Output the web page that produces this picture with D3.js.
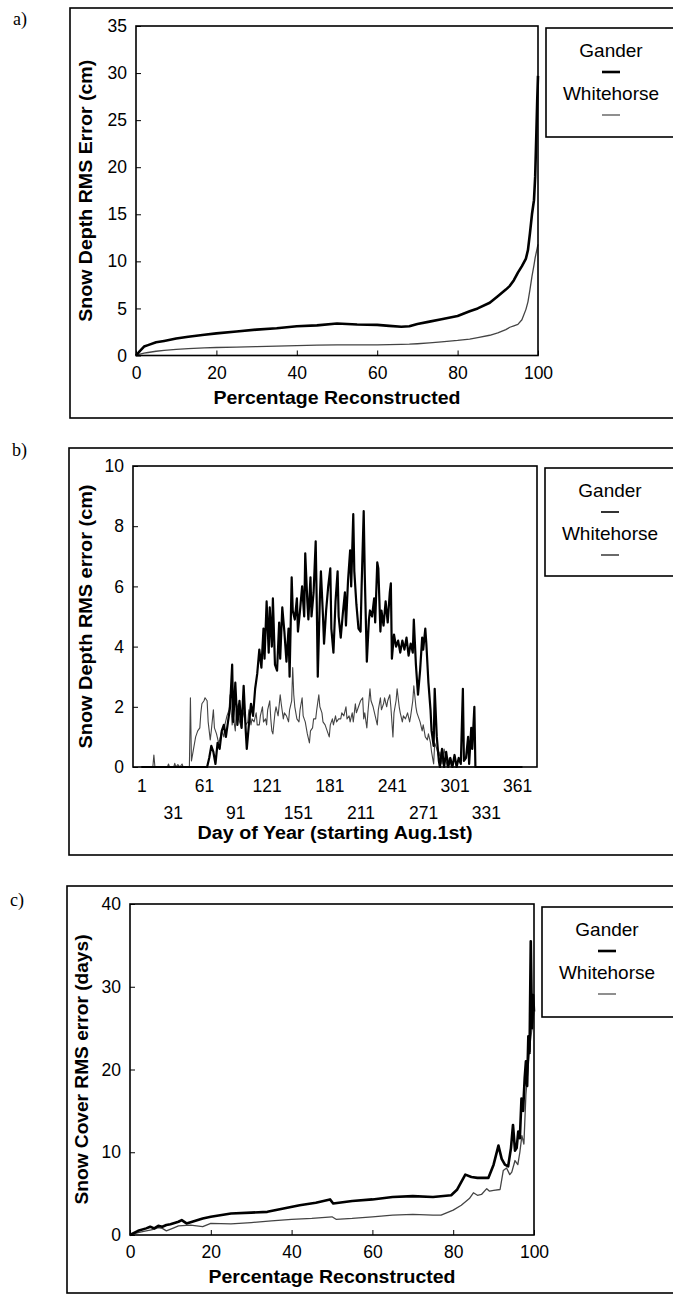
<!DOCTYPE html>
<html>
<head>
<meta charset="utf-8">
<script src="https://cdn.jsdelivr.net/npm/d3@7"></script>
<style>
  body { margin: 0; background: #fff; }
  svg { display: block; }
  text { font-family: 'Liberation Sans', Arial, sans-serif; fill: #000; }
</style>
</head>
<body>
<svg id="chart" width="673" height="1297"></svg>
<script>
// ---- panel a: snow depth RMS error vs percentage reconstructed
var pctA = [0, 1, 2, 3, 5, 7, 10, 13, 17, 20, 25, 30, 35, 40, 45, 50, 55, 60, 63, 66, 68, 70, 73, 76, 80, 83, 85, 88, 90, 92, 93, 94, 95, 96, 97, 97.5, 98, 98.5, 99, 99.3, 99.6, 99.8, 100];
var ganderA = [0, 0.5, 0.95, 1.1, 1.4, 1.55, 1.8, 2.0, 2.2, 2.35, 2.55, 2.75, 2.9, 3.1, 3.2, 3.4, 3.3, 3.25, 3.15, 3.05, 3.1, 3.35, 3.6, 3.85, 4.2, 4.7, 5.0, 5.6, 6.3, 7.0, 7.4, 8.0, 8.8, 9.5, 10.3, 11.2, 13, 15, 16.5, 19, 23.7, 27, 29.7];
var whiteA = [0, 0.15, 0.25, 0.32, 0.45, 0.55, 0.65, 0.72, 0.8, 0.85, 0.9, 0.95, 1.0, 1.05, 1.1, 1.12, 1.12, 1.13, 1.15, 1.18, 1.2, 1.25, 1.35, 1.45, 1.6, 1.75, 1.9, 2.15, 2.4, 2.75, 3.0, 3.15, 3.3, 3.8, 4.9, 5.7, 7.0, 8.4, 9.6, 10.4, 11.0, 11.4, 11.8];

// ---- panel b: daily snow depth RMS error (day 1 = Aug 1st)
var ganderDays = [1, 64, 66, 68, 70, 72, 74, 76, 78, 80, 82, 84, 86, 88, 89, 91, 93, 95, 97, 99, 101, 102, 104, 106, 108, 110, 112, 114, 116, 118, 119, 121, 123, 124, 126, 127, 129, 131, 133, 134, 136, 138, 140, 142, 143, 145, 146, 148, 150, 151, 153, 155, 157, 158, 160, 161, 163, 164, 166, 168, 169, 170, 172, 173, 175, 176, 178, 180, 182, 183, 185, 187, 189, 190, 192, 194, 196, 197, 199, 201, 202, 204, 205, 207, 209, 211, 212, 214, 215, 217, 219, 220, 222, 224, 225, 227, 228, 230, 231, 233, 235, 237, 239, 240, 241, 243, 245, 247, 249, 251, 253, 255, 257, 259, 261, 262, 264, 266, 268, 270, 271, 273, 274, 276, 278, 279, 281, 282, 284, 286, 287, 289, 291, 293, 295, 297, 299, 301, 303, 305, 307, 309, 310, 312, 314, 315, 317, 318, 320, 321, 366];
var ganderDepth = [0, 0, 0.3, 0.7, 0.5, 0.1, 0.8, 0.6, 1.2, 1.4, 1.0, 1.5, 2.0, 3.4, 1.5, 2.8, 1.4, 2.2, 1.3, 2.7, 1.2, 0.6, 1.4, 2.1, 1.7, 2.6, 3.1, 3.9, 3.3, 4.6, 3.6, 5.5, 3.8, 5.3, 4.0, 5.6, 3.4, 3.2, 4.8, 3.6, 5.3, 4.5, 3.5, 4.6, 3.0, 6.3, 5.2, 4.9, 5.6, 4.5, 5.2, 6.0, 5.0, 7.1, 5.5, 4.9, 6.3, 5.0, 5.8, 7.5, 5.5, 3.0, 5.6, 6.5, 5.0, 4.1, 5.2, 6.0, 6.6, 4.6, 3.8, 5.5, 6.5, 5.0, 4.3, 5.1, 5.8, 4.7, 6.2, 7.2, 6.0, 8.4, 6.5, 5.4, 4.6, 4.5, 6.0, 8.5, 6.4, 3.5, 4.9, 5.2, 5.0, 5.6, 4.8, 6.8, 6.6, 4.5, 5.2, 4.7, 5.5, 4.8, 5.8, 6.1, 3.6, 4.4, 4.0, 4.2, 3.8, 4.2, 3.9, 4.3, 3.7, 4.1, 3.8, 4.9, 3.4, 2.4, 3.2, 4.3, 3.9, 4.6, 4.1, 2.8, 1.9, 1.2, 0.7, 2.6, 1.0, 0.2, 0, 0.6, 0, 0.5, 0, 0.3, 0, 0.4, 0, 0.3, 0.1, 2.6, 0.2, 0.3, 1.0, 0.1, 1.3, 0.6, 2.0, 0, 0];
var whiteDays = [1, 12, 13, 14, 26, 27, 28, 32, 33, 34, 36, 38, 40, 41, 47, 48, 49, 51, 53, 55, 57, 58, 59, 61, 62, 64, 65, 67, 68, 70, 71, 73, 75, 76, 78, 80, 81, 83, 85, 86, 88, 89, 91, 92, 94, 95, 97, 98, 100, 101, 103, 104, 106, 107, 109, 111, 112, 114, 115, 117, 118, 120, 121, 122, 124, 125, 126, 127, 129, 130, 132, 134, 135, 137, 138, 140, 142, 143, 145, 146, 147, 148, 150, 152, 153, 155, 156, 158, 160, 162, 163, 165, 166, 168, 169, 171, 172, 174, 175, 177, 179, 181, 182, 184, 185, 187, 188, 190, 192, 193, 195, 197, 198, 200, 201, 203, 204, 206, 207, 209, 211, 213, 214, 215, 217, 218, 220, 221, 223, 225, 227, 228, 230, 231, 233, 234, 236, 237, 239, 240, 242, 243, 245, 246, 248, 249, 251, 252, 254, 256, 258, 259, 261, 262, 264, 265, 267, 268, 270, 271, 273, 275, 276, 278, 279, 281, 282, 284, 286, 287, 289, 291, 293, 294, 296, 298, 366];
var whiteDepth = [0, 0, 0.4, 0, 0, 0.1, 0, 0, 0.12, 0, 0.08, 0, 0.1, 0, 0, 2.3, 0.2, 0.6, 1.0, 1.2, 1.3, 1.8, 2.1, 2.2, 2.3, 2.2, 1.5, 0.9, 1.2, 1.9, 1.3, 1.1, 0.8, 0.9, 1.2, 1.0, 1.4, 1.7, 1.9, 2.4, 1.4, 1.7, 1.2, 1.9, 2.1, 1.5, 1.3, 1.9, 1.6, 1.4, 1.5, 1.9, 1.4, 1.6, 1.5, 1.8, 1.4, 1.4, 1.7, 2.0, 1.5, 1.6, 1.4, 1.9, 2.2, 1.6, 1.2, 1.1, 1.8, 2.0, 1.7, 2.4, 2.1, 1.6, 1.8, 1.7, 1.5, 1.9, 2.2, 3.3, 2.4, 2.0, 1.6, 1.5, 1.9, 2.3, 1.7, 1.5, 1.1, 0.8, 1.2, 1.3, 1.6, 1.6, 1.9, 2.4, 2.0, 1.8, 1.5, 1.4, 1.2, 1.0, 1.4, 1.6, 1.4, 1.7, 1.5, 1.6, 1.6, 1.8, 1.7, 2.0, 1.6, 1.7, 1.5, 1.8, 1.5, 2.1, 1.8, 2.0, 2.2, 2.3, 1.6, 1.8, 1.3, 1.8, 2.6, 2.2, 2.0, 1.7, 1.4, 1.9, 2.3, 1.9, 2.1, 2.3, 2.0, 2.2, 2.4, 2.0, 1.0, 1.8, 2.2, 2.6, 2.0, 1.8, 1.5, 1.7, 1.6, 1.8, 1.5, 1.7, 2.2, 2.7, 2.0, 1.8, 1.6, 1.5, 1.2, 1.4, 1.0, 0.9, 1.1, 0.8, 0.5, 0.1, 0.8, 0.6, 0.3, 0.5, 0.1, 0.6, 0.2, 0, 0.3, 0, 0];
var dayTicks = [1, 31, 61, 91, 121, 151, 181, 211, 241, 271, 301, 331, 361];

// ---- panel c: snow cover RMS error vs percentage reconstructed
var pctGanderC = [0, 2, 4, 5, 6, 7, 8, 9, 10, 12, 12.8, 14, 16, 18, 20, 25, 30, 34, 38, 42, 46, 49.5, 50.3, 55, 60, 65, 70, 75, 79.5, 81, 83, 84.5, 86, 88.7, 90, 91.2, 92, 92.8, 93.6, 94.3, 94.8, 95.3, 95.7, 96.1, 96.5, 96.9, 97.3, 97.7, 98, 98.3, 98.6, 98.9, 99.2, 99.5, 99.8, 100];
var ganderC = [0, 0.5, 0.8, 1.0, 0.8, 1.1, 1.0, 1.2, 1.3, 1.6, 1.8, 1.4, 1.7, 2.0, 2.2, 2.6, 2.7, 2.8, 3.2, 3.6, 3.9, 4.3, 3.8, 4.1, 4.3, 4.6, 4.7, 4.6, 4.8, 5.5, 7.3, 7.0, 6.9, 6.9, 8.5, 10.8, 9.2, 8.5, 8.3, 10.5, 13.3, 10.2, 10.5, 12.5, 11.7, 16.5, 15, 19, 21, 18, 24, 22, 35.5, 25, 29, 27];
var pctWhiteC = [0, 2, 4, 5, 6, 7, 8, 9, 11, 12, 15, 18, 20, 25, 30, 35, 40, 45, 50, 51, 55, 60, 65, 70, 75, 77, 80, 82, 84, 85, 86, 87, 88.3, 89, 90, 91.6, 92.4, 93.2, 94, 94.5, 95.3, 96, 96.5, 97, 97.5, 98, 98.5, 99, 99.5, 100];
var whiteC = [0, 0.3, 0.5, 0.6, 0.7, 0.9, 0.8, 0.5, 0.9, 1.1, 1.2, 1.0, 1.4, 1.35, 1.5, 1.7, 1.9, 2.0, 2.2, 1.9, 2.0, 2.2, 2.4, 2.5, 2.4, 2.4, 3.0, 3.6, 4.4, 5.1, 4.8, 4.9, 5.6, 5.3, 5.4, 5.5, 7.8, 8.1, 7.3, 7.6, 9.0, 8.5, 10, 12, 11, 17, 20, 23, 25, 27];

var seriesNames = ['Gander', 'Whitehorse'];

var svg = d3.select('#chart');

function zip(xs, ys) {
  return xs.map(function(x, i) { return [x, ys[i]]; });
}

function drawPanel(p) {
  var g = svg.append('g');

  // outer frame, running off the right side like the scan
  g.append('rect')
    .attr('x', p.frame[0]).attr('y', p.frame[1])
    .attr('width', 700 - p.frame[0]).attr('height', p.frame[2] - p.frame[1])
    .attr('fill', 'none').attr('stroke', '#000').attr('stroke-width', 1.6);

  g.append('text')
    .attr('x', p.letter[0]).attr('y', p.letter[1])
    .style('font-family', "'Liberation Serif', 'Times New Roman', serif")
    .style('font-size', '18px')
    .text(p.key + ')');

  var x = d3.scaleLinear().domain(p.xDomain).range([p.plot[0], p.plot[1]]);
  var y = d3.scaleLinear().domain(p.yDomain).range([p.plot[3], p.plot[2]]);

  var line = d3.line()
    .x(function(d) { return x(d[0]); })
    .y(function(d) { return y(d[1]); });

  g.append('path')
    .datum(p.white)
    .attr('d', line)
    .attr('fill', 'none')
    .attr('stroke', '#444')
    .attr('stroke-width', p.whiteWidth)
    .attr('stroke-linejoin', 'round');

  g.append('path')
    .datum(p.gander)
    .attr('d', line)
    .attr('fill', 'none')
    .attr('stroke', '#000')
    .attr('stroke-width', p.ganderWidth)
    .attr('stroke-linejoin', 'round');

  // y axis, inward ticks
  var ya = g.append('g')
    .attr('transform', 'translate(' + p.plot[0] + ',0)')
    .call(d3.axisLeft(y).tickValues(p.yTicks).tickSizeInner(-5).tickSizeOuter(0).tickPadding(9));
  ya.select('.domain').remove();
  ya.selectAll('text').style('font-size', '17.5px').attr('fill', '#000').attr('font-family', null);
  ya.selectAll('line').attr('stroke', '#000');

  // x axis
  var xa = g.append('g')
    .attr('transform', 'translate(0,' + p.plot[3] + ')')
    .call(d3.axisBottom(x).tickValues(p.xTicks).tickSizeInner(p.xTickSize).tickSizeOuter(0).tickPadding(p.xPad));
  xa.select('.domain').remove();
  xa.selectAll('text').style('font-size', '17.5px').attr('fill', '#000').attr('font-family', null);
  xa.selectAll('line').attr('stroke', '#000');
  if (p.twoRows) {
    xa.selectAll('.tick text').attr('dy', function(d, i) { return i % 2 ? '2.2em' : '0.71em'; });
  }

  // plot box
  g.append('rect')
    .attr('x', p.plot[0]).attr('y', p.plot[2])
    .attr('width', p.plot[1] - p.plot[0]).attr('height', p.plot[3] - p.plot[2])
    .attr('fill', 'none').attr('stroke', '#000').attr('stroke-width', 1.6);

  // axis titles
  g.append('text')
    .attr('x', (p.plot[0] + p.plot[1]) / 2).attr('y', p.xTitle[0])
    .attr('text-anchor', 'middle')
    .attr('textLength', p.xTitle[1]).attr('lengthAdjust', 'spacingAndGlyphs')
    .style('font-size', '17.5px').style('font-weight', 'bold')
    .text(p.xLabel);

  g.append('text')
    .attr('transform', 'translate(' + p.yTitle[0] + ',' + (p.plot[2] + p.plot[3]) / 2 + ') rotate(-90)')
    .attr('text-anchor', 'middle')
    .attr('textLength', p.yTitle[1]).attr('lengthAdjust', 'spacingAndGlyphs')
    .style('font-size', '17.5px').style('font-weight', 'bold')
    .text(p.yLabel);

  // legend
  var lx = p.legend[0], ly = p.legend[1];
  g.append('rect')
    .attr('x', lx).attr('y', ly)
    .attr('width', 700 - lx).attr('height', p.legend[2] - ly)
    .attr('fill', 'none').attr('stroke', '#000').attr('stroke-width', 1.6);
  var cx = lx + 65;
  seriesNames.forEach(function(name, i) {
    g.append('text')
      .attr('x', cx).attr('y', ly + 29 + i * 43)
      .attr('text-anchor', 'middle')
      .style('font-size', '19px')
      .text(name);
    g.append('line')
      .attr('x1', cx - 9).attr('x2', cx + 9)
      .attr('y1', ly + 44 + i * 43).attr('y2', ly + 44 + i * 43)
      .attr('stroke', i ? '#444' : '#000')
      .attr('stroke-width', i ? p.legendWidths[1] : p.legendWidths[0]);
  });
}

drawPanel({
  key: 'a', letter: [13, 25], frame: [70, 8, 418],
  plot: [136, 538, 26, 355.5], legend: [546, 28, 137],
  xDomain: [0, 100], yDomain: [0, 35],
  xTicks: [0, 20, 40, 60, 80, 100], yTicks: [0, 5, 10, 15, 20, 25, 30, 35],
  xTickSize: -5, xPad: 11, twoRows: false,
  gander: zip(pctA, ganderA), white: zip(pctA, whiteA),
  ganderWidth: 2.6, whiteWidth: 1.3, legendWidths: [2.6, 1.2],
  xLabel: 'Percentage Reconstructed', xTitle: [404, 247],
  yLabel: 'Snow Depth RMS Error (cm)', yTitle: [92, 262]
});

drawPanel({
  key: 'b', letter: [12, 456], frame: [69, 448, 855],
  plot: [133, 537, 466, 767], legend: [545, 468, 576],
  xDomain: [-7, 380], yDomain: [0, 10],
  xTicks: dayTicks, yTicks: [0, 2, 4, 6, 8, 10],
  xTickSize: 0, xPad: 13, twoRows: true,
  gander: zip(ganderDays, ganderDepth), white: zip(whiteDays, whiteDepth),
  ganderWidth: 2.2, whiteWidth: 1.1, legendWidths: [1.6, 1.6],
  xLabel: 'Day of Year (starting Aug.1st)', xTitle: [839, 275],
  yLabel: 'Snow Depth RMS error (cm)', yTitle: [92, 264]
});

drawPanel({
  key: 'c', letter: [10, 906], frame: [67, 886, 1293],
  plot: [130, 534, 904, 1235], legend: [542, 907, 1017],
  xDomain: [0, 100], yDomain: [0, 40],
  xTicks: [0, 20, 40, 60, 80, 100], yTicks: [0, 10, 20, 30, 40],
  xTickSize: -5, xPad: 11, twoRows: false,
  gander: zip(pctGanderC, ganderC), white: zip(pctWhiteC, whiteC),
  ganderWidth: 2.6, whiteWidth: 1.3, legendWidths: [2.6, 1.2],
  xLabel: 'Percentage Reconstructed', xTitle: [1283, 247],
  yLabel: 'Snow Cover RMS error (days)', yTitle: [88, 270]
});
</script>
</body>
</html>
